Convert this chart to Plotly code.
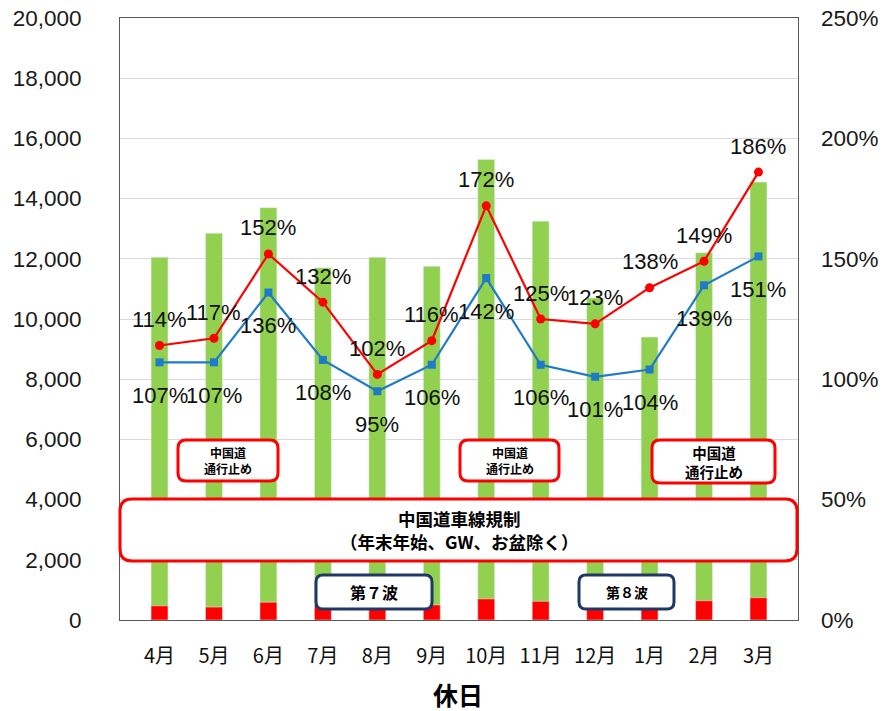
import plotly.graph_objects as go

months = ["4月", "5月", "6月", "7月", "8月", "9月", "10月", "11月", "12月", "1月", "2月", "3月"]
total_traffic = [12050, 12850, 13700, 11700, 12050, 11750, 15300, 13250, 10700, 9400, 12200, 14550]
heavy_traffic = [470, 430, 590, 500, 450, 500, 700, 620, 480, 430, 640, 740]
ratio_red = [114, 117, 152, 132, 102, 116, 172, 125, 123, 138, 149, 186]
ratio_blue = [107, 107, 136, 108, 95, 106, 142, 106, 101, 104, 139, 151]

y_ticks = list(range(0, 20001, 2000))
y2_ticks = list(range(0, 251, 50))

W, H = 885, 711
L, R, T, B = 120, 87, 18, 91
PW, PH = W - L - R, H - T - B

def px(x):
    return (x - L) / PW

def py(y):
    return (H - B - y) / PH

def rounded_path(x0, y0, x1, y1, r):
    pts = [
        ("M", [(x0 + r, y0)]),
        ("L", [(x1 - r, y0)]),
        ("Q", [(x1, y0), (x1, y0 + r)]),
        ("L", [(x1, y1 - r)]),
        ("Q", [(x1, y1), (x1 - r, y1)]),
        ("L", [(x0 + r, y1)]),
        ("Q", [(x0, y1), (x0, y1 - r)]),
        ("L", [(x0, y0 + r)]),
        ("Q", [(x0, y0), (x0 + r, y0)]),
    ]
    s = ""
    for cmd, ps in pts:
        s += cmd + " " + " ".join(f"{px(a):.5f},{py(b):.5f}" for a, b in ps) + " "
    return s + "Z"

fig = go.Figure()
fig.add_trace(go.Bar(x=months, y=total_traffic, marker_color="#92D050", width=0.31,
                     hoverinfo="skip", showlegend=False))
fig.add_trace(go.Bar(x=months, y=heavy_traffic, marker_color="#FF0000", width=0.31,
                     hoverinfo="skip", showlegend=False))

fig.add_trace(go.Scatter(x=months, y=ratio_blue, yaxis="y2", mode="lines+markers",
                         line=dict(color="#1F7BC8", width=2.2),
                         marker=dict(symbol="square", size=8, color="#1F7BC8"),
                         showlegend=False))
fig.add_trace(go.Scatter(x=months, y=ratio_red, yaxis="y2", mode="lines+markers",
                         line=dict(color="#FF0000", width=2.2),
                         marker=dict(symbol="circle", size=9, color="#FF0000"),
                         showlegend=False))

label_font = dict(family="Liberation Sans, Arial", size=22, color="#111111")
annotations = []
for m, v in zip(months, ratio_red):
    annotations.append(dict(x=m, y=v, xref="x", yref="y2", text=f"{v}%", showarrow=False,
                            yshift=26, xanchor="center", yanchor="middle", font=label_font))
for m, v in zip(months, ratio_blue):
    annotations.append(dict(x=m, y=v, xref="x", yref="y2", text=f"{v}%", showarrow=False,
                            yshift=-33, xanchor="center", yanchor="middle", font=label_font))

red = "#FF0000"
navy = "#1F3864"
boxes = [
    (178, 440, 278, 481, 8, red, 3),
    (460, 440, 559, 481, 8, red, 3),
    (652, 440, 775, 483, 8, red, 3),
    (120, 499, 797, 561, 12, red, 3),
    (316, 575, 432, 609, 7, navy, 3),
    (579, 575, 674, 609, 7, navy, 3),
]
shapes = []
for x0, y0, x1, y1, r, col, lw in boxes:
    shapes.append(dict(type="path", path=rounded_path(x0, y0, x1, y1, r), xref="paper", yref="paper",
                       fillcolor="white", line=dict(color=col, width=lw), layer="above"))

cjk = "Noto Sans CJK JP"
box_texts = [
    dict(text="<b>中国道<br>通行止め</b>", x=px(228), y=py(460.5), font=dict(family=cjk, size=12, color="#000")),
    dict(text="<b>中国道<br>通行止め</b>", x=px(509.5), y=py(460.5), font=dict(family=cjk, size=12, color="#000")),
    dict(text="<b>中国道<br>通行止め</b>", x=px(713.5), y=py(461.5), font=dict(family=cjk, size=14.5, color="#000")),
    dict(text="<b>中国道車線規制<br>（年末年始、GW、お盆除く）</b>", x=px(458.5), y=py(530), font=dict(family=cjk, size=17.5, color="#000")),
    dict(text="<b>第７波</b>", x=px(374), y=py(592), font=dict(family=cjk, size=16, color="#000")),
    dict(text="<b>第８波</b>", x=px(626.5), y=py(592), font=dict(family=cjk, size=14, color="#000")),
    dict(text="<b>休日</b>", x=px(458), y=py(694), font=dict(family=cjk, size=25, color="#000")),
]
for a in box_texts:
    a.update(xref="paper", yref="paper", showarrow=False, xanchor="center", yanchor="middle", align="center")
annotations += box_texts

fig.update_layout(
    width=W, height=H,
    margin=dict(l=L, r=R, t=T, b=B, pad=0),
    paper_bgcolor="white", plot_bgcolor="white",
    barmode="overlay", bargap=0.69,
    xaxis=dict(type="category", showline=True, linecolor="#595959", linewidth=1, mirror=True,
               tickfont=dict(family=cjk, size=20, color="#111"), ticks="", ticklabelstandoff=18,
               showgrid=False, automargin=False),
    yaxis=dict(range=[0, 20000], tickvals=y_ticks, ticktext=[f"{v:,}" for v in y_ticks],
               showline=True, linecolor="#595959", linewidth=1, mirror=True,
               gridcolor="#D9D9D9", gridwidth=1.2, zeroline=False, automargin=False,
               tickfont=dict(family="Liberation Sans, Arial", size=22.5, color="#1a1a1a"),
               ticklabelstandoff=33),
    yaxis2=dict(range=[0, 250], overlaying="y", side="right", tickvals=y2_ticks,
                ticktext=[f"{v}%" for v in y2_ticks], showgrid=False, zeroline=False,
                automargin=False,
                tickfont=dict(family="Liberation Sans, Arial", size=22.5, color="#1a1a1a"),
                ticklabelstandoff=22),
    shapes=shapes,
    annotations=annotations,
)

fig.write_html("out.html")
